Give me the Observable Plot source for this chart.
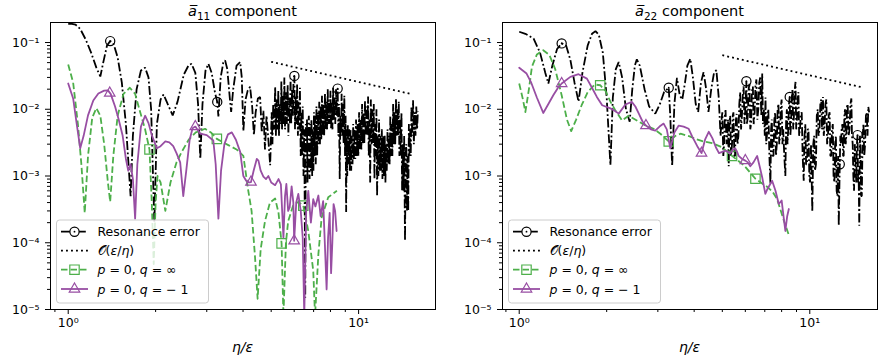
<!DOCTYPE html>
<html><head><meta charset="utf-8">
<script src="https://cdn.jsdelivr.net/npm/d3@7"></script>
<script src="https://cdn.jsdelivr.net/npm/@observablehq/plot@0.6"></script>
<style>
body{margin:0;background:#fff;}
#chart{display:flex;width:878px;height:360px;}
svg{display:block}
</style></head><body><div id="chart"></div>
<script>
const GREEN = "#4daf4a", PURPLE = "#984ea3";

// ---- tick labels ----
const xMajor = [1, 10];
const xMajorLabels = ["10\u2070", "10\u00b9"];
const xMinor = [0.9, 2, 3, 4, 5, 6, 7, 8, 9];
const yMajor = [1e-5, 1e-4, 1e-3, 1e-2, 1e-1];
const yMajorLabels = ["10\u207b\u2075", "10\u207b\u2074", "10\u207b\u00b3", "10\u207b\u00b2", "10\u207b\u00b9"];
const yMinor = [2e-5,3e-5,4e-5,5e-5,6e-5,7e-5,8e-5,9e-5,2e-4,3e-4,4e-4,5e-4,6e-4,7e-4,8e-4,9e-4,
  2e-3,3e-3,4e-3,5e-3,6e-3,7e-3,8e-3,9e-3,0.02,0.03,0.04,0.05,0.06,0.07,0.08,0.09];

// ---- a11 panel ----
const resA11 = [[1.00,0.19],[1.03,0.19],[1.06,0.185],[1.10,0.16],[1.15,0.11],[1.20,0.07],[1.25,0.042],[1.29,0.031],[1.32,0.05],[1.36,0.09],[1.395,0.105],[1.43,0.098],[1.48,0.06],[1.53,0.025],[1.58,0.006],[1.64,0.0005],[1.67,0.004],[1.72,0.02],[1.78,0.038],[1.84,0.042],[1.89,0.03],[1.93,0.01],[1.98,0.0002],[2.02,0.006],[2.08,0.014],[2.13,0.0166],[2.2,0.012],[2.29,0.0081],[2.38,0.013],[2.5,0.033],[2.6,0.046],[2.66,0.048],[2.74,0.035],[2.80,0.012],[2.85,0.0018],[2.90,0.012],[2.97,0.038],[3.04,0.048],[3.12,0.035],[3.2,0.018],[3.26,0.0129],[3.29,0.0078],[3.35,0.03],[3.42,0.05],[3.47,0.054],[3.53,0.04],[3.60,0.015],[3.64,0.0091],[3.70,0.02],[3.80,0.045],[3.91,0.051],[3.96,0.03],[4.01,0.0047],[4.08,0.014],[4.15,0.019],[4.23,0.0217],[4.30,0.011],[4.36,0.0041],[4.42,0.009],[4.50,0.0145],[4.58,0.0153],[4.64,0.0045],[4.70,0.0095],[4.76,0.0025],[4.82,0.008],[4.89,0.0035],[4.96,0.00145],[5.02,0.009],[5.05,0.003],[5.08,0.012],[5.12,0.005],[5.16,0.0217],[5.19,0.004],[5.22,0.014],[5.26,0.005],[5.29,0.019],[5.32,0.004],[5.35,0.012],[5.39,0.006],[5.42,0.026],[5.45,0.005],[5.48,0.016],[5.52,0.006],[5.55,0.03],[5.58,0.005],[5.62,0.018],[5.66,0.006],[5.70,0.023],[5.73,0.004],[5.76,0.015],[5.80,0.006],[5.83,0.029],[5.86,0.006],[5.90,0.02],[5.94,0.008],[5.97,0.03],[6.01,0.0316],[6.04,0.005],[6.07,0.016],[6.11,0.006],[6.14,0.024],[6.18,0.004],[6.21,0.013],[6.25,0.005],[6.28,0.021],[6.32,0.002],[6.35,0.009],[6.39,0.002],[6.42,0.011],[6.46,0.001],[6.50,0.005],[6.55,0.000015],[6.58,0.006],[6.60,0.002],[6.64,0.007],[6.67,0.0008],[6.70,0.005],[6.74,0.008],[6.78,0.0009],[6.81,0.006],[6.85,0.0012],[6.88,0.007],[6.92,0.001],[6.95,0.005],[6.99,0.0012],[7.02,0.009],[7.05,0.002],[7.08,0.008],[7.12,0.0015],[7.16,0.011],[7.20,0.002],[7.24,0.009],[7.28,0.003],[7.32,0.013],[7.36,0.003],[7.40,0.011],[7.44,0.0035],[7.48,0.016],[7.52,0.004],[7.56,0.012],[7.61,0.004],[7.66,0.0175],[7.70,0.005],[7.74,0.013],[7.79,0.005],[7.83,0.02],[7.87,0.006],[7.91,0.014],[7.96,0.006],[8.00,0.019],[8.04,0.005],[8.08,0.013],[8.13,0.005],[8.17,0.021],[8.22,0.007],[8.26,0.015],[8.31,0.006],[8.36,0.02],[8.42,0.008],[8.47,0.0204],[8.52,0.004],[8.56,0.012],[8.61,0.0009],[8.65,0.008],[8.70,0.004],[8.74,0.017],[8.79,0.004],[8.83,0.012],[8.88,0.003],[8.93,0.016],[8.98,0.002],[9.02,0.008],[9.06,0.00029],[9.10,0.005],[9.14,0.001],[9.18,0.006],[9.23,0.0015],[9.28,0.005],[9.33,0.0012],[9.38,0.005],[9.43,0.0012],[9.48,0.004],[9.53,0.0015],[9.58,0.006],[9.63,0.0018],[9.68,0.005],[9.74,0.0018],[9.80,0.007],[9.86,0.002],[9.92,0.006],[9.98,0.002],[10.04,0.009],[10.10,0.0025],[10.16,0.007],[10.22,0.0025],[10.28,0.012],[10.34,0.003],[10.40,0.009],[10.46,0.003],[10.52,0.0135],[10.58,0.004],[10.65,0.011],[10.72,0.004],[10.78,0.0155],[10.84,0.002],[10.90,0.007],[10.96,0.0008],[11.02,0.014],[11.08,0.003],[11.15,0.01],[11.22,0.003],[11.28,0.012],[11.34,0.0009],[11.40,0.006],[11.46,0.002],[11.52,0.01],[11.58,0.0005],[11.64,0.004],[11.70,0.001],[11.76,0.007],[11.83,0.0012],[11.90,0.004],[11.96,0.0012],[12.02,0.005],[12.08,0.0009],[12.15,0.004],[12.22,0.001],[12.30,0.004],[12.37,0.0008],[12.43,0.003],[12.50,0.0012],[12.58,0.005],[12.65,0.0015],[12.72,0.004],[12.79,0.0015],[12.86,0.008],[12.93,0.002],[13.00,0.006],[13.07,0.002],[13.15,0.012],[13.22,0.003],[13.30,0.009],[13.37,0.003],[13.45,0.0145],[13.52,0.004],[13.60,0.01],[13.67,0.004],[13.75,0.013],[13.82,0.002],[13.90,0.007],[13.97,0.002],[14.05,0.009],[14.12,0.0006],[14.20,0.003],[14.28,0.0006],[14.35,0.004],[14.45,0.000107],[14.52,0.002],[14.60,0.003],[14.68,0.0003],[14.75,0.002],[14.82,0.0003],[14.90,0.006],[14.97,0.002],[15.05,0.005],[15.12,0.002],[15.20,0.011],[15.30,0.004],[15.40,0.0136],[15.50,0.003],[15.60,0.009],[15.70,0.004],[15.80,0.011],[15.90,0.005],[16.00,0.0093]];
const resA11Marks = [[1.395,0.105],[3.26,0.0129],[6.01,0.0316],[8.47,0.0204]];
const orderA11 = [[5.0,0.0514],[15.0,0.0171]];
const qInfA11 = [[1.00,0.047],[1.04,0.025],[1.08,0.006],[1.11,0.0015],[1.14,0.00028],[1.17,0.002],[1.21,0.0075],[1.25,0.0104],[1.29,0.008],[1.33,0.003],[1.37,0.0008],[1.395,0.00041],[1.43,0.002],[1.48,0.008],[1.55,0.017],[1.63,0.021],[1.70,0.017],[1.77,0.009],[1.84,0.005],[1.905,0.0025],[1.94,0.0004],[1.97,0.000048],[2.0,0.0004],[2.03,0.001],[2.08,0.0008],[2.16,0.0003],[2.25,0.0008],[2.36,0.0016],[2.46,0.0023],[2.6,0.0035],[2.75,0.0045],[2.96,0.0051],[3.1,0.0045],[3.25,0.0036],[3.56,0.0029],[3.8,0.0025],[4.01,0.002],[4.17,0.0006],[4.28,0.0003],[4.40,0.00006],[4.49,0.0000145],[4.6,0.00008],[4.76,0.00021],[4.95,0.0004],[5.16,0.00046],[5.30,0.00028],[5.43,0.000098],[5.51,0.000008],[5.62,0.0001],[5.72,0.00021],[5.95,0.00036],[6.2,0.00041],[6.45,0.00036],[6.71,0.00015],[6.98,0.000038],[7.08,0.000008],[7.27,0.000068],[7.46,0.00024],[7.86,0.00048],[8.42,0.0006]];
const qInfA11Marks = [[1.905,0.0025],[3.25,0.0036],[5.43,0.000098],[6.45,0.00036]];
const qNegA11 = [[1.00,0.0243],[1.04,0.0145],[1.07,0.006],[1.10,0.0026],[1.13,0.004],[1.17,0.0081],[1.22,0.0135],[1.27,0.0172],[1.33,0.019],[1.37,0.0192],[1.40,0.017],[1.45,0.011],[1.49,0.0072],[1.54,0.004],[1.58,0.0018],[1.61,0.0012],[1.64,0.0015],[1.67,0.0009],[1.70,0.00023],[1.73,0.0015],[1.78,0.0055],[1.84,0.008],[1.89,0.0062],[1.94,0.0041],[2.02,0.0026],[2.08,0.0028],[2.16,0.0033],[2.23,0.0032],[2.30,0.0028],[2.36,0.0022],[2.43,0.0016],[2.49,0.0005],[2.55,0.0012],[2.62,0.0035],[2.68,0.0052],[2.74,0.0055],[2.80,0.0048],[2.85,0.0043],[3.00,0.0041],[3.16,0.0034],[3.22,0.0015],[3.29,0.00023],[3.36,0.0012],[3.45,0.003],[3.55,0.0042],[3.66,0.0045],[3.78,0.0035],[3.91,0.0023],[4.01,0.001],[4.10,0.00085],[4.20,0.0008],[4.26,0.00081],[4.35,0.0012],[4.46,0.0018],[4.52,0.0017],[4.60,0.0012],[4.70,0.00098],[4.80,0.0009],[4.89,0.001],[5.00,0.0008],[5.16,0.00073],[5.30,0.0009],[5.40,0.00075],[5.51,0.00012],[5.58,0.0005],[5.64,0.00076],[5.72,0.0003],[5.79,0.00034],[5.88,0.0007],[5.96,0.0004],[6.0,0.000107],[6.1,0.0004],[6.2,0.00054],[6.32,0.0003],[6.42,0.00012],[6.50,0.000008],[6.60,0.0003],[6.71,0.0006],[6.85,0.0002],[6.98,0.00045],[7.10,0.00035],[7.27,0.00051],[7.40,0.00025],[7.55,0.00042],[7.65,0.0001],[7.76,0.00002],[7.85,0.00012],[7.95,0.00028],[8.04,0.000035],[8.12,0.0001],[8.2,0.00038],[8.3,0.0003],[8.4,0.00015]];
const qNegA11Marks = [[1.39,0.0175],[2.74,0.0055],[4.26,0.00081],[6.0,0.000107]];

// ---- a22 panel ----
const resA22 = [[1.00,0.145],[1.05,0.135],[1.12,0.115],[1.18,0.07],[1.23,0.035],[1.26,0.0243],[1.30,0.045],[1.35,0.08],[1.40,0.097],[1.45,0.09],[1.50,0.055],[1.55,0.025],[1.60,0.013],[1.65,0.035],[1.72,0.09],[1.78,0.135],[1.83,0.148],[1.88,0.13],[1.94,0.07],[2.00,0.015],[2.06,0.00145],[2.10,0.015],[2.15,0.04],[2.20,0.051],[2.26,0.03],[2.33,0.01],[2.40,0.0065],[2.45,0.02],[2.50,0.045],[2.54,0.056],[2.60,0.045],[2.70,0.02],[2.80,0.011],[2.94,0.0086],[3.05,0.012],[3.15,0.018],[3.27,0.021],[3.31,0.008],[3.36,0.0014],[3.42,0.012],[3.49,0.0295],[3.57,0.016],[3.64,0.014],[3.72,0.025],[3.79,0.045],[3.88,0.057],[3.96,0.03],[4.05,0.012],[4.13,0.0091],[4.22,0.025],[4.31,0.036],[4.40,0.02],[4.48,0.0091],[4.58,0.02],[4.68,0.035],[4.77,0.0385],[4.86,0.015],[4.93,0.004],[4.97,0.007],[5.00,0.009],[5.04,0.002],[5.07,0.003],[5.10,0.008],[5.13,0.0097],[5.17,0.003],[5.20,0.004],[5.23,0.007],[5.26,0.0014],[5.29,0.006],[5.32,0.008],[5.36,0.002],[5.40,0.003],[5.43,0.008],[5.46,0.009],[5.50,0.002],[5.53,0.002],[5.57,0.007],[5.60,0.0085],[5.64,0.003],[5.68,0.004],[5.72,0.012],[5.76,0.018],[5.80,0.005],[5.84,0.008],[5.88,0.016],[5.92,0.022],[5.96,0.006],[6.00,0.01],[6.05,0.0263],[6.08,0.006],[6.12,0.008],[6.16,0.02],[6.20,0.024],[6.24,0.005],[6.28,0.006],[6.32,0.018],[6.37,0.022],[6.41,0.006],[6.46,0.009],[6.50,0.022],[6.55,0.028],[6.60,0.007],[6.65,0.01],[6.70,0.025],[6.75,0.03],[6.81,0.008],[6.86,0.0343],[6.90,0.006],[6.95,0.01],[7.00,0.004],[7.04,0.015],[7.08,0.003],[7.12,0.004],[7.16,0.008],[7.20,0.01],[7.26,0.002],[7.32,0.00076],[7.36,0.005],[7.40,0.007],[7.45,0.002],[7.50,0.002],[7.55,0.007],[7.60,0.009],[7.65,0.002],[7.70,0.003],[7.75,0.01],[7.80,0.012],[7.85,0.003],[7.90,0.004],[7.95,0.011],[8.00,0.014],[8.05,0.003],[8.10,0.005],[8.17,0.002],[8.24,0.001],[8.29,0.007],[8.34,0.01],[8.38,0.003],[8.43,0.005],[8.48,0.012],[8.53,0.0153],[8.57,0.004],[8.62,0.006],[8.67,0.015],[8.72,0.02],[8.77,0.005],[8.82,0.008],[8.88,0.02],[8.93,0.0257],[8.98,0.005],[9.03,0.007],[9.08,0.014],[9.14,0.018],[9.19,0.004],[9.25,0.005],[9.31,0.008],[9.38,0.009],[9.45,0.002],[9.53,0.00085],[9.59,0.004],[9.65,0.006],[9.71,0.0015],[9.78,0.0015],[9.84,0.005],[9.90,0.005],[9.96,0.001],[10.02,0.0008],[10.10,0.003],[10.20,0.00029],[10.28,0.003],[10.35,0.004],[10.42,0.0012],[10.50,0.0015],[10.57,0.008],[10.65,0.01],[10.72,0.004],[10.80,0.005],[10.87,0.012],[10.95,0.014],[11.02,0.005],[11.10,0.0153],[11.17,0.004],[11.25,0.006],[11.32,0.012],[11.40,0.014],[11.47,0.003],[11.55,0.004],[11.62,0.008],[11.70,0.009],[11.77,0.002],[11.85,0.002],[11.92,0.005],[12.00,0.006],[12.07,0.001],[12.15,0.0008],[12.22,0.003],[12.30,0.004],[12.37,0.0006],[12.45,0.0005],[12.52,0.002],[12.58,0.00018],[12.68,0.0015],[12.74,0.004],[12.80,0.003],[12.87,0.005],[12.95,0.006],[13.02,0.002],[13.08,0.002],[13.15,0.008],[13.22,0.01],[13.29,0.003],[13.36,0.004],[13.43,0.011],[13.50,0.012],[13.60,0.004],[13.70,0.005],[13.80,0.012],[13.90,0.0145],[13.97,0.004],[14.05,0.003],[14.12,0.001],[14.20,0.0006],[14.28,0.003],[14.35,0.002],[14.45,0.0008],[14.52,0.003],[14.60,0.0041],[14.66,0.0008],[14.72,0.0012],[14.80,0.00018],[14.88,0.004],[14.95,0.002],[15.02,0.0005],[15.10,0.0005],[15.20,0.004],[15.30,0.006],[15.40,0.002],[15.50,0.003],[15.60,0.008],[15.70,0.009],[15.80,0.004],[15.90,0.0109],[16.00,0.009]];
const resA22Marks = [[1.40,0.097],[3.27,0.021],[6.05,0.0263],[8.53,0.0153],[12.68,0.0015],[14.60,0.0041]];
const orderA22 = [[5.0,0.0645],[15.0,0.0215]];
const qInfA22 = [[1.00,0.0243],[1.03,0.014],[1.05,0.0091],[1.08,0.02],[1.106,0.0433],[1.15,0.066],[1.21,0.0767],[1.27,0.065],[1.33,0.04],[1.40,0.0162],[1.46,0.007],[1.51,0.0047],[1.57,0.007],[1.64,0.0115],[1.72,0.018],[1.82,0.0235],[1.90,0.0229],[1.98,0.019],[2.06,0.013],[2.14,0.0097],[2.26,0.0068],[2.38,0.008],[2.54,0.0068],[2.72,0.0057],[2.90,0.0051],[3.06,0.0043],[3.27,0.0033],[3.45,0.004],[3.59,0.0043],[3.88,0.0039],[4.04,0.0036],[4.30,0.0033],[4.61,0.0031],[4.99,0.0027],[5.40,0.002],[5.93,0.00145],[6.50,0.00091],[7.13,0.00069],[7.45,0.00058],[7.72,0.00045],[8.14,0.000215],[8.47,0.00013]];
const qInfA22Marks = [[1.90,0.0229],[3.27,0.0033],[5.40,0.002],[6.50,0.00091]];
const qNegA22 = [[1.00,0.0418],[1.06,0.0343],[1.10,0.025],[1.15,0.015],[1.21,0.0088],[1.26,0.012],[1.31,0.0162],[1.36,0.021],[1.40,0.0243],[1.50,0.0306],[1.60,0.0335],[1.71,0.0288],[1.78,0.021],[1.85,0.0153],[1.93,0.0115],[2.06,0.0103],[2.13,0.0095],[2.20,0.0086],[2.32,0.0118],[2.44,0.0129],[2.51,0.011],[2.58,0.0086],[2.66,0.0065],[2.73,0.0057],[2.84,0.005],[2.94,0.0048],[3.04,0.0055],[3.14,0.0061],[3.22,0.005],[3.31,0.0026],[3.42,0.0045],[3.54,0.0057],[3.68,0.0055],[3.83,0.0051],[3.94,0.0039],[4.10,0.0028],[4.24,0.0022],[4.36,0.0035],[4.49,0.0046],[4.62,0.0037],[4.75,0.0027],[4.87,0.0022],[5.00,0.0023],[5.13,0.0024],[5.23,0.0023],[5.33,0.0022],[5.44,0.0025],[5.54,0.0026],[5.62,0.0023],[5.69,0.002],[5.85,0.0018],[6.00,0.0017],[6.12,0.0016],[6.24,0.0014],[6.40,0.0016],[6.59,0.002],[6.72,0.0014],[6.86,0.00095],[7.03,0.00054],[7.15,0.00064],[7.42,0.00085],[7.62,0.0006],[7.82,0.00038],[8.0,0.00043],[8.12,0.00025],[8.24,0.00015],[8.36,0.00025],[8.47,0.00032]];
const qNegA22Marks = [[1.40,0.0243],[2.73,0.0057],[4.24,0.0022],[6.00,0.0017]];

const legendLabels = ["Resonance error", "\ud835\udcaa(\u03b5/\u03b7)", "p = 0, q = \u221e", "p = 0, q = \u2212 1"];

const X = d => d[0], Y = d => d[1];
const FONT = "DejaVu Sans, sans-serif";
const LW = 1.8;

function panel(cfg) {
  const W = 439, H = 360;
  const svg = Plot.plot({
    width: W, height: H,
    marginLeft: cfg.ml, marginRight: cfg.mr, marginTop: 22, marginBottom: 51,
    style: {fontFamily: FONT, fontSize: "12.5px", background: "white", color: "black"},
    x: {type: "log", domain: cfg.xDomain, label: null},
    y: {type: "log", domain: [1e-5, 0.1995], label: null},
    marks: [
      Plot.axisX({ticks: xMinor, tickSize: 3, tickFormat: () => "", label: null}),
      Plot.axisX({ticks: xMajor, tickSize: 5, tickPadding: 4, tickFormat: d => xMajorLabels[xMajor.indexOf(d)], fontSize: 12.5, label: null}),
      Plot.axisY({ticks: yMinor, tickSize: 3, tickFormat: () => "", label: null}),
      Plot.axisY({ticks: yMajor, tickSize: 5, tickPadding: 6, tickFormat: d => yMajorLabels[yMajor.findIndex(v => Math.abs(v - d) / v < 1e-6)], fontSize: 12.5, label: null}),
      Plot.line(cfg.res, {x: X, y: Y, stroke: "black", strokeWidth: LW, strokeDasharray: "9,2.5,1.8,2.5", strokeLinecap: "butt", strokeLinejoin: "miter", clip: true}),
      Plot.dot(cfg.resMarks, {x: X, y: Y, r: 4.6, stroke: "black", fill: "none", strokeWidth: 1.2}),
      Plot.dot(cfg.resMarks, {x: X, y: Y, r: 0.9, fill: "black", stroke: null}),
      Plot.line(cfg.order, {x: X, y: Y, stroke: "black", strokeWidth: 1.8, strokeDasharray: "1.9,3.1", strokeLinecap: "butt"}),
      Plot.line(cfg.qInf, {x: X, y: Y, stroke: GREEN, strokeWidth: LW, strokeDasharray: "6.5,3", strokeLinecap: "butt", clip: true}),
      Plot.dot(cfg.qInfMarks, {x: X, y: Y, symbol: "square", r: 5.3, stroke: GREEN, fill: "none", strokeWidth: 1.2}),
      Plot.line(cfg.qNeg, {x: X, y: Y, stroke: PURPLE, strokeWidth: LW, clip: true}),
      Plot.dot(cfg.qNegMarks, {x: X, y: Y, symbol: "triangle", r: 3.9, stroke: PURPLE, fill: "none", strokeWidth: 1.2}),
      Plot.frame({stroke: "black", strokeWidth: 1})
    ]
  });
  const s = d3.select(svg);
  const left = cfg.ml, right = W - cfg.mr, cx = (left + right) / 2;
  // title
  const t = s.append("text").attr("x", cx).attr("y", 16).attr("text-anchor", "middle")
    .attr("font-family", FONT).attr("font-size", 14.5).attr("fill", "black");
  t.append("tspan").attr("font-style", "italic").text("a\u0305");
  t.append("tspan").attr("dy", 3.5).attr("font-size", 10.5).text(cfg.sub);
  t.append("tspan").attr("dy", -3.5).text(" component");
  // x label
  s.append("text").attr("x", cx).attr("y", 352).attr("text-anchor", "middle")
    .attr("font-family", FONT).attr("font-size", 14).attr("font-style", "italic").text("\u03b7/\u03b5");
  // legend
  const bx = left + 6.5, by = 220, bw = 152, bh = 83;
  const g = s.append("g").attr("font-family", FONT).attr("font-size", 12.5).attr("text-anchor", "start");
  g.append("rect").attr("x", bx).attr("y", by).attr("width", bw).attr("height", bh).attr("rx", 3)
    .attr("fill", "white").attr("fill-opacity", 0.8).attr("stroke", "#cccccc").attr("stroke-width", 1);
  const rows = [11.7, 30.7, 49.7, 69];
  const lx0 = bx + 4.5, lx1 = bx + 31.5, mx = (lx0 + lx1) / 2, tx = bx + 41;
  const styles = [
    {stroke: "black", dash: "9,2.5,1.8,2.5", w: LW},
    {stroke: "black", dash: "1.9,3.1", w: 1.8},
    {stroke: GREEN, dash: "6.5,3", w: LW},
    {stroke: PURPLE, dash: null, w: LW}
  ];
  rows.forEach((ry, i) => {
    const y = by + ry;
    const st = styles[i];
    const ln = g.append("line").attr("x1", lx0).attr("x2", lx1).attr("y1", y).attr("y2", y)
      .attr("stroke", st.stroke).attr("stroke-width", st.w);
    if (st.dash) ln.attr("stroke-dasharray", st.dash);
    const tt = g.append("text").attr("x", tx).attr("y", y).attr("dy", "0.36em").attr("fill", "black").attr("text-anchor", "start");
    if (i === 0) tt.text(legendLabels[0]);
    if (i === 1) {
      tt.append("tspan").text(legendLabels[1].slice(0, 3));
      tt.append("tspan").attr("font-style", "italic").text("\u03b5");
      tt.append("tspan").text("/");
      tt.append("tspan").attr("font-style", "italic").text("\u03b7");
      tt.append("tspan").text(")");
    }
    if (i === 2 || i === 3) {
      const lab = legendLabels[i];
      tt.append("tspan").attr("font-style", "italic").text("p");
      tt.append("tspan").text(lab.slice(1, 7));
      tt.append("tspan").attr("font-style", "italic").text("q");
      tt.append("tspan").text(lab.slice(8));
    }
  });
  // legend markers
  const sym = (type, r) => d3.symbol(type, Math.PI * r * r)();
  g.append("path").attr("d", sym(d3.symbolCircle, 4.6)).attr("transform", `translate(${mx},${by + rows[0]})`)
    .attr("fill", "white").attr("stroke", "black").attr("stroke-width", 1.2);
  g.append("circle").attr("cx", mx).attr("cy", by + rows[0]).attr("r", 0.9).attr("fill", "black");
  g.append("path").attr("d", sym(d3.symbolSquare, 5.3)).attr("transform", `translate(${mx},${by + rows[2]})`)
    .attr("fill", "none").attr("stroke", GREEN).attr("stroke-width", 1.2);
  g.append("path").attr("d", sym(d3.symbolTriangle, 3.9)).attr("transform", `translate(${mx},${by + rows[3]})`)
    .attr("fill", "none").attr("stroke", PURPLE).attr("stroke-width", 1.2);
  return svg;
}

const chart = document.getElementById("chart");
chart.append(panel({ml: 50, mr: 4, xDomain: [0.869, 18.4], sub: "11",
  res: resA11, resMarks: resA11Marks, order: orderA11, qInf: qInfA11, qInfMarks: qInfA11Marks, qNeg: qNegA11, qNegMarks: qNegA11Marks}));
chart.append(panel({ml: 63, mr: 1, xDomain: [0.876, 17.1], sub: "22",
  res: resA22, resMarks: resA22Marks, order: orderA22, qInf: qInfA22, qInfMarks: qInfA22Marks, qNeg: qNegA22, qNegMarks: qNegA22Marks}));
</script></body></html>
